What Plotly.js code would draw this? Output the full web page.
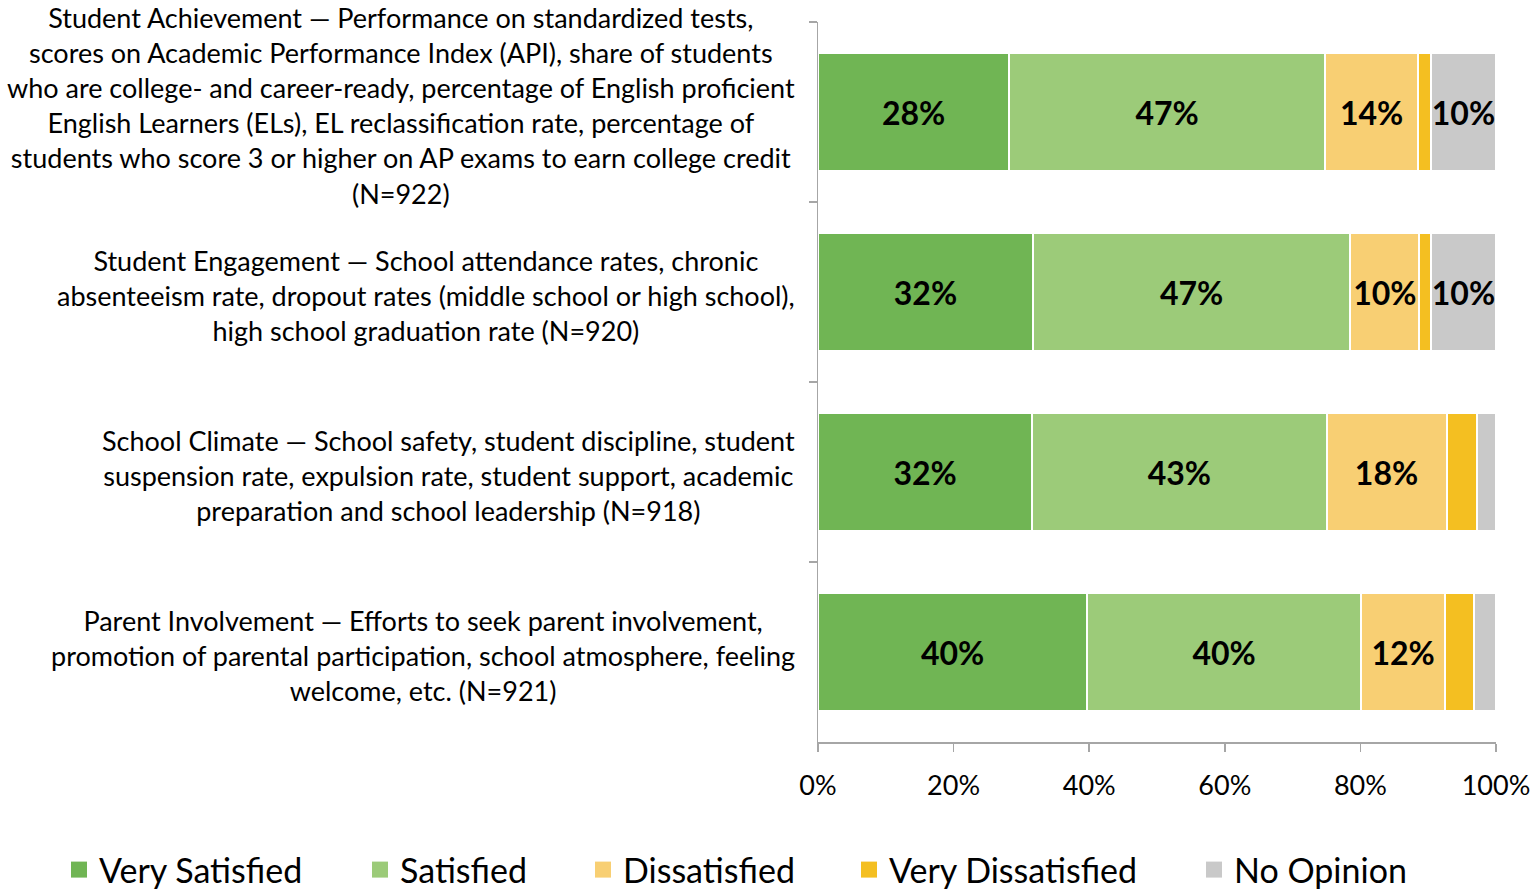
<!DOCTYPE html>
<html>
<head>
<meta charset="utf-8">
<script src="https://cdn.plot.ly/plotly-3.0.1.min.js"></script>
<style>html,body{margin:0;padding:0;background:#fff;}#chart{width:1534px;height:890px;}</style>
</head>
<body>
<div id="chart"></div>
<script>
// ---- data ----
const categories = ["Student Achievement", "Student Engagement", "School Climate", "Parent Involvement"];
const categoryLabels = [
  "Student Achievement — Performance on standardized tests,<br>scores on Academic Performance Index (API), share of students<br>who are college- and career-ready, percentage of English proficient<br>English Learners (ELs), EL reclassification rate, percentage of<br>students who score 3 or higher on AP exams to earn college credit<br>(N=922)",
  "Student Engagement — School attendance rates, chronic<br>absenteeism rate, dropout rates (middle school or high school),<br>high school graduation rate (N=920)",
  "School Climate — School safety, student discipline, student<br>suspension rate, expulsion rate, student support, academic<br>preparation and school leadership (N=918)",
  "Parent Involvement — Efforts to seek parent involvement,<br>promotion of parental participation, school atmosphere, feeling<br>welcome, etc. (N=921)"
];
const seriesNames = ["Very Satisfied", "Satisfied", "Dissatisfied", "Very Dissatisfied", "No Opinion"];
const verySatisfied    = [28.2, 31.7, 31.6, 39.7];
const satisfied        = [46.6, 46.8, 43.4, 40.4];
const dissatisfied     = [13.7, 10.2, 17.7, 12.4];
const veryDissatisfied = [1.9, 1.7, 4.5, 4.2];
const noOpinion        = [9.6, 9.6, 2.8, 3.3];
const xTickValues = [0, 20, 40, 60, 80, 100];
const xTickLabels = ["0%", "20%", "40%", "60%", "80%", "100%"];

// ---- style ----
const colors = ["#70B554", "#9CCB79", "#F8CF73", "#F4BF21", "#C9C9C9"];
const FONT = "Lato, 'Liberation Sans', sans-serif";
const seriesValues = [verySatisfied, satisfied, dissatisfied, veryDissatisfied, noOpinion];
const legendCenters = [79, 380, 603, 869, 1214]; // px of symbol centers
const W = 1534, H = 890;
const legendKey = i => (i === 0 ? "legend" : "legend" + (i + 1));

const barTraces = seriesValues.map((vals, i) => ({
  type: "bar",
  orientation: "h",
  name: seriesNames[i],
  y: categories,
  x: vals,
  text: vals.map(v => v >= 9.5 ? Math.round(v) + "%" : ""),
  textposition: "inside",
  insidetextanchor: "middle",
  textangle: 0,
  constraintext: "none",
  textfont: {family: FONT, size: 32, color: "#000", weight: "bold"},
  marker: {color: colors[i], line: {color: "#ffffff", width: 2}},
  hoverinfo: "skip",
  showlegend: false,
  legendgroup: seriesNames[i]
}));

// legend entries (square swatches), no data drawn
const legendTraces = seriesNames.map((n, i) => ({
  type: "scatter",
  mode: "markers",
  name: n,
  x: [null], y: [null],
  marker: {symbol: "square", size: 18, color: colors[i], line: {width: 0}},
  hoverinfo: "skip",
  showlegend: true,
  legendgroup: n,
  legend: legendKey(i)
}));

const legendBase = {
  orientation: "h",
  xref: "container", yref: "container",
  y: 20 / H, yanchor: "middle", xanchor: "left",
  font: {family: FONT, size: 34, color: "#000"},
  bgcolor: "rgba(0,0,0,0)", borderwidth: 0
};

const yShifts = [7, -3, -3, -3];
const annotations = categories.map((c, i) => ({
  xref: "paper", yref: "y",
  x: (797 - 818) / 678, y: c,
  xanchor: "right", yanchor: "middle",
  yshift: yShifts[i],
  align: "center",
  text: categoryLabels[i],
  showarrow: false,
  font: {family: FONT, size: 27, color: "#000"}
}));

const layout = {
  width: W, height: H,
  margin: {l: 818, r: 38, t: 22, b: 148, pad: 0},
  paper_bgcolor: "#fff", plot_bgcolor: "#fff",
  barmode: "stack",
  bargap: 0.344,
  font: {family: FONT, color: "#000"},
  xaxis: {
    range: [0, 100], tickmode: "array", tickvals: xTickValues, ticktext: xTickLabels,
    ticks: "outside", ticklen: 8, tickcolor: "#A6A6A6", tickwidth: 1.5,
    showline: true, linecolor: "#A6A6A6", linewidth: 1.5,
    showgrid: false, zeroline: false,
    tickfont: {family: FONT, size: 27, color: "#000"},
    ticklabelstandoff: 11,
    fixedrange: true
  },
  yaxis: {
    type: "category", categoryorder: "array", categoryarray: categories,
    range: [categories.length - 0.5, -0.5],
    tickson: "boundaries", ticks: "outside", ticklen: 8, tickcolor: "#A6A6A6", tickwidth: 1.5,
    showline: true, linecolor: "#A6A6A6", linewidth: 1.5,
    showticklabels: false, showgrid: false, zeroline: false,
    fixedrange: true
  },
  annotations: annotations,
  showlegend: true
};
legendCenters.forEach((cx, i) => {
  layout[legendKey(i)] = Object.assign({}, legendBase, {x: (cx - 20) / W});
});

Plotly.newPlot("chart", barTraces.concat(legendTraces), layout, {displayModeBar: false, staticPlot: true});
</script>
</body>
</html>
